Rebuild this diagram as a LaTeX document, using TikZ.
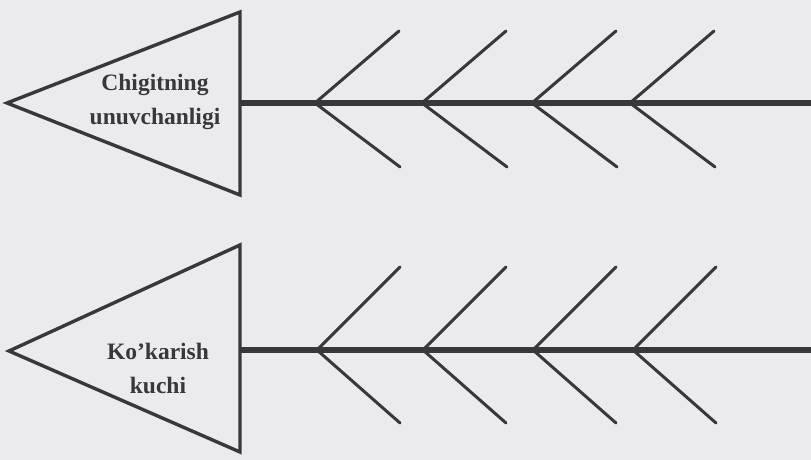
\documentclass[tikz,border=0pt]{standalone}
\usepackage{fontspec}
\setmainfont{Liberation Serif}
\definecolor{bg}{HTML}{EBEBED}
\definecolor{ink}{HTML}{38383A}
\begin{document}
\begin{tikzpicture}[x=1pt,y=-1pt,
  tri/.style={draw=ink,line width=3.4pt,line join=miter},
  spine/.style={draw=ink,line width=5.4pt},
  bone/.style={draw=ink,line width=3pt,line cap=round},
  lbl/.style={text=ink,font=\bfseries\fontsize{23.5}{34}\selectfont,align=center,inner sep=0pt}]
\fill[bg] (0,0) rectangle (811,460);
\useasboundingbox (0,0) rectangle (811,460);
% top fishbone
\coordinate (tA) at (7,103);
\coordinate (tB) at (240,12);
\coordinate (tC) at (240,195);
\coordinate (tS) at (240,103);
\coordinate (tE) at (811,103);
\draw[spine] (tS) -- (tE);
\draw[tri] (tA) -- (tB) -- (tC) -- cycle;
\node[lbl] (t) at (155,102) {Chigitning\\unuvchanligi};
\foreach \i/\x in {1/315,2/422,3/532,4/630}{
  \coordinate (tv\i) at (\x,103);
  \coordinate (tu\i) at (\x+84,31);
  \coordinate (td\i) at (\x+85,167);
  \draw[bone] (tu\i) -- (tv\i) -- (td\i);
}
% bottom fishbone
\coordinate (bA) at (9,351);
\coordinate (bB) at (240,245);
\coordinate (bC) at (240,452);
\coordinate (bS) at (240,350);
\coordinate (bE) at (811,350);
\draw[spine] (bS) -- (bE);
\draw[tri] (bA) -- (bB) -- (bC) -- cycle;
\node[lbl] (b) at (158,368) {Ko’karish\\kuchi};
\foreach \i/\x in {1/317,2/423,3/533,4/633}{
  \coordinate (bv\i) at (\x,350);
  \coordinate (bu\i) at (\x+83,267);
  \coordinate (bd\i) at (\x+83,423);
  \draw[bone] (bu\i) -- (bv\i) -- (bd\i);
}
\end{tikzpicture}
\end{document}
